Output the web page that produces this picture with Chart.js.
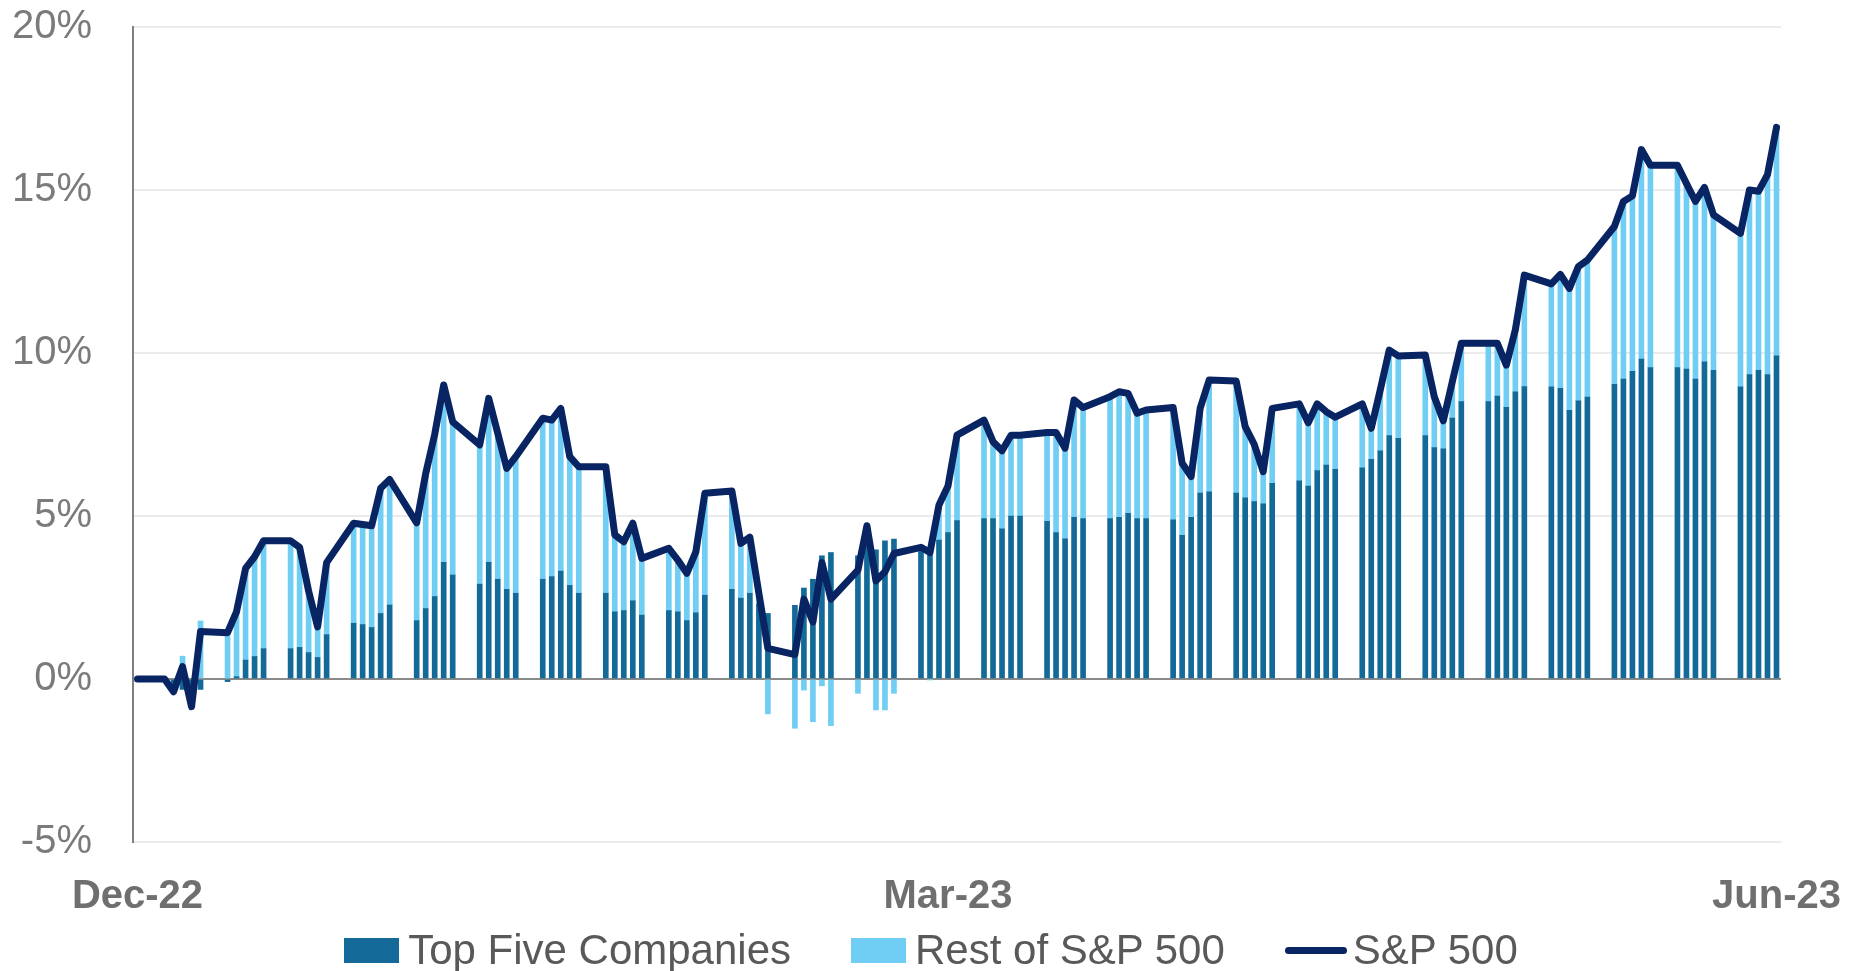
<!DOCTYPE html>
<html>
<head>
<meta charset="utf-8">
<title>S&amp;P 500 contribution, Top Five vs Rest</title>
<script src="https://cdn.jsdelivr.net/npm/chart.js@4.4.0/dist/chart.umd.min.js"></script>
<style>
  html, body { margin: 0; padding: 0; background: #fff; overflow: hidden; }
  .chart-box { position: relative; width: 1862px; height: 971px; }
  .legend {
    position: absolute; left: 0; top: 925px; width: 1862px; height: 50px;
    display: flex; justify-content: center; align-items: center;
    font-family: "Liberation Sans", Arial, sans-serif; font-size: 42px; color: #595959;
  }
  .legend .item { display: flex; align-items: center; height: 50px; line-height: 50px; margin: 0 30px; white-space: nowrap; }
  .legend .box { width: 55px; height: 25px; margin-right: 9px; }
  .legend .line { width: 62px; height: 7px; border-radius: 4px; margin-right: 6px; }
</style>
</head>
<body>
<div class="chart-box">
  <canvas id="contribChart"></canvas>
  <div class="legend" id="legend"></div>
</div>
<script>
// trading days, counted in calendar days from 30 Dec 2022
const tradingDays = [
  0,
  3, 4, 5, 6, 7,
  10, 11, 12, 13, 14,
  17, 18, 19, 20, 21,
  24, 25, 26, 27, 28,
  31, 32, 33, 34, 35,
  38, 39, 40, 41, 42,
  45, 46, 47, 48, 49,
  52, 53, 54, 55, 56,
  59, 60, 61, 62, 63,
  66, 67, 68, 69, 70,
  73, 74, 75, 76, 77,
  80, 81, 82, 83, 84,
  87, 88, 89, 90, 91,
  94, 95, 96, 97, 98,
  101, 102, 103, 104, 105,
  108, 109, 110, 111, 112,
  115, 116, 117, 118, 119,
  122, 123, 124, 125, 126,
  129, 130, 131, 132, 133,
  136, 137, 138, 139, 140,
  143, 144, 145, 146, 147,
  150, 151, 152, 153, 154,
  157, 158, 159, 160, 161,
  164, 165, 166, 167, 168,
  171, 172, 173, 174, 175,
  178, 179, 180, 181, 182
];

// YTD contribution, % points
const topFive = [
  0,
  0, -0.25, -0.32, -0.40, -0.32,
  -0.08, 0.07, 0.58, 0.69, 0.93,
  0.93, 0.97, 0.81, 0.66, 1.36,
  1.71, 1.67, 1.58, 2.01, 2.27,
  1.79, 2.16, 2.53, 3.58, 3.19,
  2.91, 3.58, 3.06, 2.75, 2.63,
  3.06, 3.14, 3.31, 2.87, 2.63,
  2.63, 2.06, 2.10, 2.40, 1.96,
  2.10, 2.06, 1.79, 2.03, 2.57,
  2.75, 2.48, 2.63, 2.30, 2.01,
  2.26, 2.79, 3.06, 3.78, 3.88,
  3.78, 4.20, 3.96, 4.24, 4.29,
  3.91, 3.90, 4.26, 4.49, 4.86,
  4.92, 4.92, 4.61, 5.00, 5.00,
  4.84, 4.49, 4.30, 4.96, 4.92,
  4.92, 4.96, 5.08, 4.92, 4.92,
  4.88, 4.41, 4.96, 5.70, 5.74,
  5.70, 5.56, 5.44, 5.37, 6.00,
  6.08, 5.92, 6.39, 6.56, 6.43,
  6.48, 6.74, 7.00, 7.47, 7.38,
  7.47, 7.10, 7.06, 8.00, 8.51,
  8.51, 8.68, 8.33, 8.81, 8.97,
  8.96, 8.92, 8.24, 8.53, 8.65,
  9.04, 9.20, 9.44, 9.81, 9.55,
  9.55, 9.51, 9.20, 9.73, 9.47,
  8.96, 9.34, 9.47, 9.34, 9.91
];

const restOfIndex = [
  0,
  0, -0.14, 0.70, -0.45, 1.78,
  1.50, 2.00, 2.81, 3.06, 3.31,
  3.31, 3.07, 1.89, 0.94, 2.21,
  3.07, 3.07, 3.12, 3.84, 3.85,
  3.00, 4.14, 4.97, 5.44, 4.70,
  4.27, 5.03, 4.48, 3.71, 4.19,
  4.94, 4.80, 4.99, 3.95, 3.88,
  3.88, 2.36, 2.11, 2.38, 1.74,
  1.91, 1.59, 1.45, 1.87, 3.13,
  3.02, 1.68, 1.72, 0.33, -1.07,
  -1.51, -0.34, -1.31, -0.21, -1.43,
  -0.44, 0.50, -0.95, -0.95, -0.44,
  0.13, -0.02, 1.08, 1.43, 2.62,
  3.02, 2.36, 2.39, 2.48, 2.48,
  2.72, 3.07, 2.78, 3.60, 3.41,
  3.74, 3.85, 3.68, 3.23, 3.33,
  3.45, 2.21, 1.25, 2.60, 3.43,
  3.44, 2.18, 1.76, 0.99, 2.30,
  2.36, 1.94, 2.05, 1.64, 1.60,
  1.96, 0.95, 1.87, 2.62, 2.53,
  2.47, 1.56, 0.86, 1.12, 1.79,
  1.79, 1.62, 1.30, 1.90, 3.42,
  3.16, 3.49, 3.74, 4.12, 4.20,
  4.84, 5.45, 5.38, 6.43, 6.21,
  6.21, 5.69, 5.45, 5.35, 4.77,
  4.71, 5.66, 5.49, 6.13, 7.01
];

const sp500 = [
  0,
  0, -0.39, 0.38, -0.85, 1.46,
  1.42, 2.07, 3.39, 3.75, 4.24,
  4.24, 4.04, 2.70, 1.60, 3.57,
  4.78, 4.74, 4.70, 5.85, 6.12,
  4.79, 6.30, 7.50, 9.02, 7.89,
  7.18, 8.61, 7.54, 6.46, 6.82,
  8.00, 7.94, 8.30, 6.82, 6.51,
  6.51, 4.42, 4.21, 4.78, 3.70,
  4.01, 3.65, 3.24, 3.90, 5.70,
  5.77, 4.16, 4.35, 2.63, 0.94,
  0.75, 2.45, 1.75, 3.57, 2.45,
  3.34, 4.70, 3.01, 3.29, 3.85,
  4.04, 3.88, 5.34, 5.92, 7.48,
  7.94, 7.28, 7.00, 7.48, 7.48,
  7.56, 7.56, 7.08, 8.56, 8.33,
  8.66, 8.81, 8.76, 8.15, 8.25,
  8.33, 6.62, 6.21, 8.30, 9.17,
  9.14, 7.74, 7.20, 6.36, 8.30,
  8.44, 7.86, 8.44, 8.20, 8.03,
  8.44, 7.69, 8.87, 10.09, 9.91,
  9.94, 8.66, 7.92, 9.12, 10.30,
  10.30, 10.30, 9.63, 10.71, 12.39,
  12.12, 12.41, 11.98, 12.65, 12.85,
  13.88, 14.65, 14.82, 16.24, 15.76,
  15.76, 15.20, 14.65, 15.08, 14.24,
  13.67, 15.00, 14.96, 15.47, 16.92
];

const tickDays = [0, 90, 182];
const tickLabels = ["Dec-22", "Mar-23", "Jun-23"];

const FONT = '"Liberation Sans", Arial, sans-serif';
const NAVY = "#082463";

function toPoints(values) {
  return tradingDays.map((d, i) => ({ x: d, y: values[i] }));
}

document.addEventListener("DOMContentLoaded", function () {
  const data = {
    datasets: [
      {
        label: "Top Five Companies",
        data: toPoints(topFive),
        backgroundColor: "#136a99",
        stack: "total",
        barThickness: 5,
        order: 1,
      },
      {
        label: "Rest of S&P 500",
        data: toPoints(restOfIndex),
        backgroundColor: "#70cef5",
        stack: "total",
        barThickness: 5,
        order: 1,
      },
      {
        type: "line",
        label: "S&P 500",
        data: toPoints(sp500),
        borderColor: NAVY,
        backgroundColor: NAVY,
        borderWidth: 7,
        borderJoinStyle: "round",
        borderCapStyle: "round",
        pointRadius: 0,
        tension: 0,
        order: 0,
      },
    ],
  };

  const config = {
    type: "bar",
    data: data,
    options: {
      responsive: true,
      maintainAspectRatio: false,
      animation: false,
      layout: { padding: { top: 27, left: 0, right: 0, bottom: 50 } },
      scales: {
        x: {
          type: "linear",
          offset: false,
          min: -0.5,
          max: 182.5,
          grid: { display: false, drawTicks: false },
          border: { display: false },
          afterBuildTicks: (scale) => {
            scale.ticks = tickDays.map((v) => ({ value: v }));
          },
          afterFit: (scale) => {
            scale.height = 79;
            scale.paddingLeft = 0;
            scale.paddingRight = 0;
          },
          ticks: {
            autoSkip: false,
            maxRotation: 0,
            minRotation: 0,
            padding: 31,
            color: "#6f6f6f",
            font: { family: FONT, size: 40, weight: "bold" },
            callback: (value) => tickLabels[tickDays.indexOf(value)],
          },
        },
        y: {
          min: -5,
          max: 20,
          afterFit: (scale) => {
            scale.width = 133;
            scale.paddingTop = 0;
            scale.paddingBottom = 0;
          },
          ticks: {
            stepSize: 5,
            padding: 41,
            color: "#7b7b7b",
            font: { family: FONT, size: 40 },
            callback: (value) => value + "%",
          },
          grid: {
            drawTicks: false,
            lineWidth: 2,
            color: (ctx) => (ctx.tick && ctx.tick.value === 0 ? "#8a8a8a" : "#ebebeb"),
          },
          border: { display: true, color: "#808080", width: 2 },
        },
        // empty right-hand gutter so the plot stops where the original does
        gutter: {
          position: "right",
          display: true,
          grid: { display: false, drawTicks: false },
          border: { display: false },
          ticks: { display: false },
          afterFit: (scale) => {
            scale.width = 81;
            scale.paddingTop = 0;
            scale.paddingBottom = 0;
          },
        },
      },
      plugins: {
        legend: { display: false },
        tooltip: { enabled: false },
        title: { display: false },
      },
    },
  };

  const ctx = document.getElementById("contribChart").getContext("2d");
  const chart = new Chart(ctx, config);

  // legend as html, built from the datasets
  const legendEl = document.getElementById("legend");
  chart.data.datasets.forEach((ds) => {
    const item = document.createElement("span");
    item.className = "item";
    const mark = document.createElement("span");
    mark.className = ds.type === "line" ? "line" : "box";
    mark.style.background = ds.type === "line" ? ds.borderColor : ds.backgroundColor;
    item.appendChild(mark);
    item.appendChild(document.createTextNode(ds.label));
    legendEl.appendChild(item);
  });
});
</script>
</body>
</html>
